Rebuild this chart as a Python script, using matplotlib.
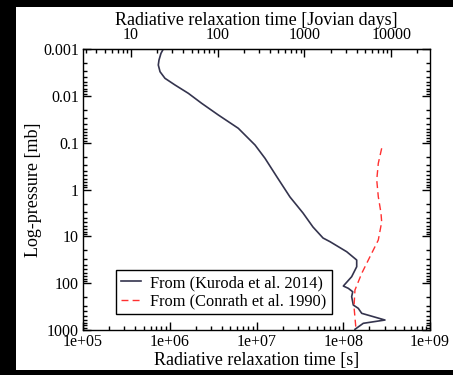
import matplotlib
matplotlib.use("Agg")
import matplotlib.pyplot as plt
import numpy as np
from matplotlib.patches import Rectangle
from matplotlib.ticker import FuncFormatter, LogLocator

# Kuroda et al. 2014 (log10 time [s], log10 pressure [mb])
kuroda_logt = [5.926, 5.899, 5.876, 5.868, 5.888, 5.945, 6.061, 6.214, 6.368, 6.560,
               6.790, 6.983, 7.098, 7.236, 7.386, 7.536, 7.651, 7.767, 7.848, 8.040,
               8.155, 8.155, 8.097, 8.001, 8.058, 8.109, 8.097, 8.116, 8.173, 8.213,
               8.481, 8.231, 8.135]
kuroda_logp = [-3.0, -2.908, -2.765, -2.658, -2.515, -2.374, -2.231, -2.054, -1.840, -1.591,
               -1.307, -0.950, -0.666, -0.267, 0.160, 0.502, 0.801, 1.036, 1.115, 1.329,
               1.506, 1.649, 1.862, 2.061, 2.110, 2.183, 2.289, 2.467, 2.537, 2.644,
               2.787, 2.857, 2.985]
# Conrath et al. 1990
conrath_logt = [8.443, 8.404, 8.386, 8.404, 8.435, 8.443, 8.404, 8.308, 8.213, 8.135,
                8.124, 8.147]
conrath_logp = [-0.880, -0.559, -0.203, 0.154, 0.502, 0.694, 1.079, 1.435, 1.790, 2.146,
                2.503, 2.985]

JOVIAN_DAY = 35730.0
labels = ["From (Kuroda et al. 2014)", "From (Conrath et al. 1990)"]

plt.rcParams['font.family'] = ['Liberation Serif', 'DejaVu Serif']

W, H = 453, 375
fig = plt.figure(figsize=(W / 100, H / 100), dpi=100, facecolor='black')
bg = Rectangle((16 / W, 1 - 370 / H), 1 - 16 / W, (370 - 7) / H,
               transform=fig.transFigure, facecolor='white',
               edgecolor='none', zorder=-10)
fig.patches.append(bg)

ax = fig.add_axes([83 / W, 1 - 330 / H, (430 - 83) / W, (330 - 49) / H])
ax.set_zorder(1)
ax.set_xscale('log')
ax.set_yscale('log')

kt = 10 ** np.array(kuroda_logt)
kp = 10 ** np.array(kuroda_logp)
ct = 10 ** np.array(conrath_logt)
cp = 10 ** np.array(conrath_logp)

ax.plot(kt, kp, color='#34344e', lw=1.2, label=labels[0], solid_joinstyle='round')
ax.plot(ct, cp, color='#ff3030', lw=1.0, ls=(0, (5, 3)), label=labels[1])

ax.set_xlim(1e5, 1e9)
ax.set_ylim(1000, 0.001)

fmt_g = FuncFormatter(lambda v, p: f'{v:g}')
ax.yaxis.set_major_formatter(fmt_g)
ax.xaxis.set_major_formatter(FuncFormatter(lambda v, p: f'{v:.0e}'))
ax.yaxis.set_major_locator(LogLocator(base=10, numticks=20))
ax.yaxis.set_minor_locator(LogLocator(base=10, subs=np.arange(2, 10), numticks=20))
ax.xaxis.set_minor_locator(LogLocator(base=10, subs=np.arange(2, 10), numticks=20))

ax.tick_params(which='both', direction='in', top=False, right=True, labelsize=11.5, width=1)
ax.tick_params(which='major', length=6)
ax.tick_params(which='minor', length=3)
ax.tick_params(axis='x', pad=3)
ax.tick_params(axis='y', pad=3)

ax.set_xlabel('Radiative relaxation time [s]', fontsize=13, labelpad=1)
ax.set_ylabel('Log-pressure [mb]', fontsize=13, labelpad=1)

sec = ax.secondary_xaxis('top', functions=(lambda s: s / JOVIAN_DAY,
                                           lambda d: d * JOVIAN_DAY))
sec.xaxis.set_major_formatter(fmt_g)
sec.tick_params(which='both', direction='in', labelsize=11.5, width=1, pad=4)
sec.tick_params(which='major', length=6)
sec.tick_params(which='minor', length=3)
sec.set_xlabel('Radiative relaxation time [Jovian days]', fontsize=13, labelpad=2)

for s in ax.spines.values():
    s.set_linewidth(1.0)

leg = ax.legend(loc='upper left', bbox_to_anchor=((116 - 83) / 347, (330 - 270) / 281),
                fontsize=11.8, frameon=True, fancybox=False, edgecolor='black',
                framealpha=1, handlelength=1.2, handletextpad=0.6,
                borderpad=0.3, labelspacing=0.15, borderaxespad=0)
leg.get_frame().set_linewidth(1.0)

fig.savefig('out.png', dpi=100, facecolor='black')
